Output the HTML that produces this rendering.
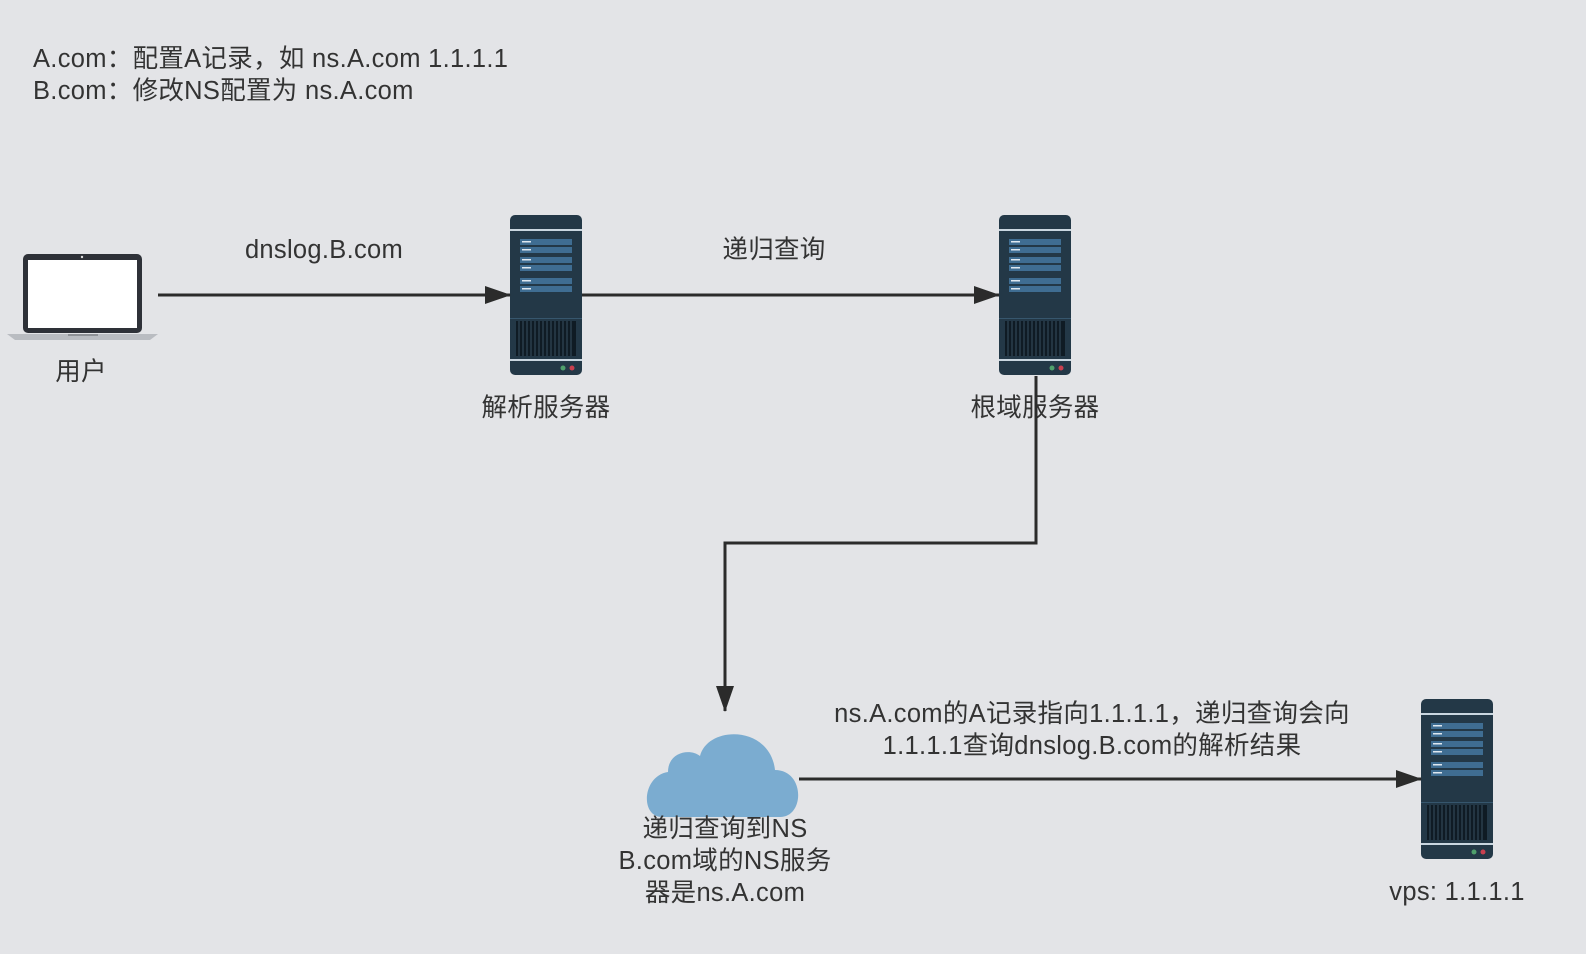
<!DOCTYPE html>
<html><head><meta charset="utf-8"><style>
html,body{margin:0;padding:0;}
body{width:1586px;height:954px;background:#e3e4e7;overflow:hidden;}
svg{display:block}
text{font-family:"Liberation Sans","Noto Sans CJK SC",sans-serif;fill:#333;font-size:25.5px;letter-spacing:0.3px;}
</style></head><body>
<svg width="1586" height="954" viewBox="0 0 1586 954">
<defs>
<marker id="ah" markerWidth="26" markerHeight="20" refX="25" refY="10" orient="auto" markerUnits="userSpaceOnUse" viewBox="0 0 26 20"><path d="M0,1 L26,10 L0,19 z" fill="#2b2b2b"/></marker>
<g id="srv">
<rect x="0" y="0" width="72" height="160" rx="5" fill="#233847"/>
<rect x="0" y="14" width="72" height="2" fill="#c9d6e0"/>
<rect x="10" y="24" width="52" height="6" fill="#3f6d92"/>
<rect x="10" y="32" width="52" height="6" fill="#3f6d92"/>
<rect x="10" y="42" width="52" height="6" fill="#3f6d92"/>
<rect x="10" y="50" width="52" height="6" fill="#3f6d92"/>
<rect x="10" y="63" width="52" height="6" fill="#3f6d92"/>
<rect x="10" y="71" width="52" height="6" fill="#3f6d92"/>
<rect x="12" y="26" width="9" height="1.5" fill="#dfe8f0"/><rect x="12" y="34" width="9" height="1.5" fill="#dfe8f0"/>
<rect x="12" y="44" width="9" height="1.5" fill="#dfe8f0"/><rect x="12" y="52" width="9" height="1.5" fill="#dfe8f0"/>
<rect x="12" y="65" width="9" height="1.5" fill="#dfe8f0"/><rect x="12" y="73" width="9" height="1.5" fill="#dfe8f0"/>
<rect x="0" y="103" width="72" height="1" fill="#36566d"/>
<rect x="6" y="106" width="60" height="35" fill="#0f1b24"/>
<path d="M9,106v35M13,106v35M17,106v35M21,106v35M25,106v35M29,106v35M33,106v35M37,106v35M41,106v35M45,106v35M49,106v35M53,106v35M57,106v35M61,106v35" stroke="#2a3e4d" stroke-width="1.5"/>
<rect x="0" y="144" width="72" height="2" fill="#c9d6e0"/>
<circle cx="53" cy="153" r="2.5" fill="#4fa06c"/><circle cx="62" cy="153" r="2.5" fill="#c9404f"/>
</g>
</defs>
<text x="33" y="67">A.com：配置A记录，如 ns.A.com 1.1.1.1</text>
<text x="33" y="99">B.com：修改NS配置为 ns.A.com</text>

<rect x="23" y="254" width="119" height="79" rx="5" fill="#2e3138"/>
<rect x="28" y="260" width="109" height="68" fill="#ffffff"/>
<circle cx="82" cy="257" r="1.2" fill="#ddd"/>
<path d="M7,334 L158,334 L150,340 L15,340 Z" fill="#b9bcc1"/>
<rect x="68" y="334" width="30" height="2" fill="#8e9196"/>
<text x="81" y="380" text-anchor="middle">用户</text>

<use href="#srv" x="510" y="215"/>
<use href="#srv" x="999" y="215"/>
<use href="#srv" x="1421" y="699"/>
<text x="546" y="416" text-anchor="middle">解析服务器</text>
<text x="1035" y="416" text-anchor="middle">根域服务器</text>
<text x="1457" y="900" text-anchor="middle">vps: 1.1.1.1</text>

<line x1="158" y1="295" x2="510" y2="295" stroke="#2b2b2b" stroke-width="3" marker-end="url(#ah)"/>
<text x="324" y="258" text-anchor="middle">dnslog.B.com</text>
<line x1="582" y1="295" x2="999" y2="295" stroke="#2b2b2b" stroke-width="3" marker-end="url(#ah)"/>
<text x="774" y="258" text-anchor="middle">递归查询</text>

<polyline points="1036,376 1036,543 725,543 725,711" fill="none" stroke="#2b2b2b" stroke-width="3" marker-end="url(#ah)"/>

<path d="M662,817 C640,817 642,776 668,772 C668,752 690,748 700,756 C708,725 770,725 775,770 C805,770 805,817 780,817 Z" fill="#7bacd0"/>
<text x="725" y="837" text-anchor="middle">递归查询到NS</text>
<text x="725" y="869" text-anchor="middle">B.com域的NS服务</text>
<text x="725" y="901" text-anchor="middle">器是ns.A.com</text>

<line x1="799" y1="779" x2="1421" y2="779" stroke="#2b2b2b" stroke-width="3" marker-end="url(#ah)"/>
<text x="1092" y="722" text-anchor="middle">ns.A.com的A记录指向1.1.1.1，递归查询会向</text>
<text x="1092" y="754" text-anchor="middle">1.1.1.1查询dnslog.B.com的解析结果</text>
</svg>
</body></html>
